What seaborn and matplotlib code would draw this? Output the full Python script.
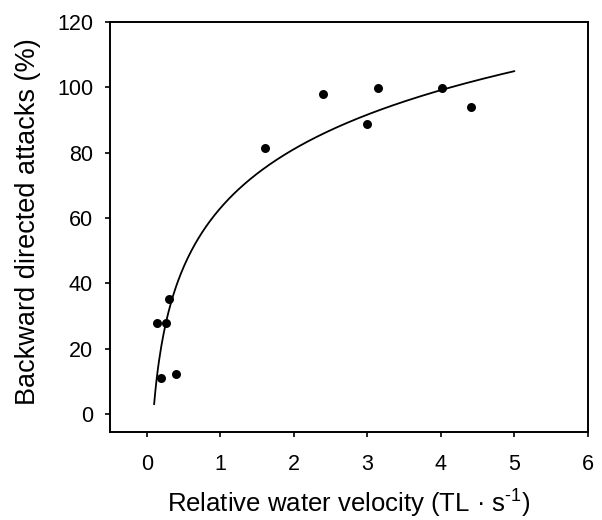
import numpy as np
import pandas as pd
import matplotlib
matplotlib.use("Agg")
import matplotlib.pyplot as plt
import seaborn as sns

# Observed data
velocity = [0.14, 0.19, 0.26, 0.30, 0.40, 1.61, 2.40, 3.00, 3.15, 4.01, 4.41]
backward_pct = [27.8, 11.0, 27.8, 35.2, 12.2, 81.3, 97.9, 88.7, 99.7, 99.7, 93.9]

# Logarithmic fit y = a + b*ln(x), drawn over this range
fit_a = 63.0
fit_b = 26.07
fit_range = [0.1, 5.0]

x_ticks = [0, 1, 2, 3, 4, 5, 6]
y_ticks = [0, 20, 40, 60, 80, 100, 120]

sns.set_theme(style="white")
plt.rcParams["font.family"] = ["Liberation Sans", "DejaVu Sans"]
plt.rcParams["mathtext.fontset"] = "custom"
plt.rcParams["mathtext.rm"] = "Liberation Sans"
plt.rcParams["mathtext.it"] = "Liberation Sans:italic"
plt.rcParams["mathtext.bf"] = "Liberation Sans:bold"

fig = plt.figure(figsize=(6.02, 5.2), dpi=100)
ax = fig.add_axes([0.1827, 0.1692, 0.794, 0.7885])

df = pd.DataFrame({"x": velocity, "y": backward_pct})
sns.scatterplot(data=df, x="x", y="y", ax=ax, color="black", s=42,
                edgecolor="black", linewidth=0, zorder=3)

xf = np.linspace(fit_range[0], fit_range[1], 300)
fit_df = pd.DataFrame({"x": xf, "y": fit_a + fit_b * np.log(xf)})
sns.lineplot(data=fit_df, x="x", y="y", ax=ax, color="black", linewidth=1.3)

ax.set_xlim(-0.5, 6.0)
ax.set_ylim(-5.5, 120)
ax.set_xticks(x_ticks)
ax.set_yticks(y_ticks)
ax.tick_params(axis="both", which="both", direction="out", length=3.6, width=1.2,
               color="black", labelsize=15.5, labelcolor="black",
               bottom=True, left=True, top=False, right=False)
ax.tick_params(axis="x", pad=12.5)
ax.tick_params(axis="y", pad=8.6)
for sp in ax.spines.values():
    sp.set_visible(True)
    sp.set_color("black")
    sp.set_linewidth(1.4)

ax.set_xlabel("Relative water velocity (TL \u00b7 s$^{\\text{-1}}$)",
              fontsize=18.5, color="black")
ax.xaxis.label.set_va("baseline")
ax.xaxis.set_label_coords(0.5, -0.1976)

ax.set_ylabel("Backward directed attacks (%)", fontsize=19.5, color="black")
ax.yaxis.set_label_coords(-0.145, 0.513)

fig.savefig("out.png", dpi=100, facecolor="white")
